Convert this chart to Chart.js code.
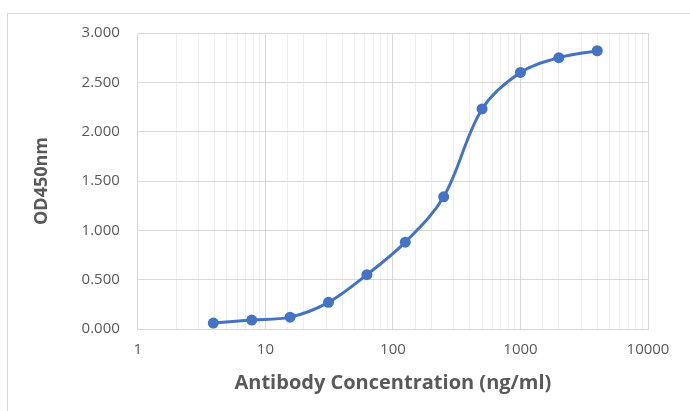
<!DOCTYPE html>
<html>
<head>
<meta charset="utf-8">
<script src="https://cdn.jsdelivr.net/npm/chart.js@4"></script>
<style>
  html, body { margin: 0; padding: 0; background: #ffffff; }
  #wrap { position: relative; width: 690px; height: 411px; overflow: hidden; }
  #frame {
    position: absolute; left: 7px; top: 13px; width: 720px; height: 440px;
    border: 1px solid #d9d9d9; box-sizing: border-box;
  }
  #chart { position: absolute; left: 0; top: 0; }
</style>
</head>
<body>
<div id="wrap">
  <div id="frame"></div>
  <canvas id="chart" width="690" height="411"></canvas>
</div>
<script>
  var concentrations = [3.90625, 7.8125, 15.625, 31.25, 62.5, 125, 250, 500, 1000, 2000, 4000];
  var odValues = [0.06, 0.09, 0.12, 0.27, 0.55, 0.88, 1.34, 2.23, 2.60, 2.75, 2.82];
  var xTickLabels = ["1", "10", "100", "1000", "10000"];

  var TEXT = "#595959";
  var BLUE = "#4472c4";
  var FONT = "'Open Sans', sans-serif";

  function isDecade(v) {
    var l = Math.log10(v);
    return Math.abs(l - Math.round(l)) < 1e-9;
  }

  var points = concentrations.map(function (c, i) {
    return { x: c, y: odValues[i] };
  });

  new Chart(document.getElementById("chart"), {
    type: "line",
    data: {
      datasets: [{
        data: points,
        borderColor: BLUE,
        backgroundColor: BLUE,
        borderWidth: 3,
        pointRadius: 5.5,
        pointBorderWidth: 0,
        pointBackgroundColor: BLUE,
        tension: 0.35,
        fill: false
      }]
    },
    options: {
      responsive: false,
      animation: false,
      layout: { padding: { left: 31, right: 42, top: 33, bottom: 16 } },
      plugins: { legend: { display: false }, tooltip: { enabled: false } },
      scales: {
        x: {
          type: "logarithmic",
          min: 1,
          max: 10000,
          border: { color: "#d9d9d9" },
          grid: {
            drawTicks: false,
            color: function (ctx) {
              return ctx.tick && isDecade(ctx.tick.value) ? "#d9d9d9" : "#efefef";
            }
          },
          ticks: {
            autoSkip: false,
            maxRotation: 0,
            padding: 12,
            color: TEXT,
            font: { family: FONT, size: 15 },
            callback: function (value) {
              if (!isDecade(value)) return "";
              var idx = Math.round(Math.log10(value));
              return xTickLabels[idx];
            }
          },
          title: {
            display: true,
            text: "Antibody Concentration (ng/ml)",
            color: TEXT,
            font: { family: FONT, size: 20, weight: "bold" },
            padding: { top: 0, bottom: 0 }
          }
        },
        y: {
          min: 0,
          max: 3,
          border: { color: "#d9d9d9" },
          grid: { drawTicks: false, color: "#d9d9d9" },
          ticks: {
            stepSize: 0.5,
            padding: 18,
            color: TEXT,
            font: { family: FONT, size: 15 },
            callback: function (value) { return value.toFixed(3); }
          },
          title: {
            display: true,
            text: "OD450nm",
            color: TEXT,
            font: { family: FONT, size: 18, weight: "bold" },
            padding: { top: 0, bottom: 11 }
          }
        }
      }
    }
  });
</script>
</body>
</html>
